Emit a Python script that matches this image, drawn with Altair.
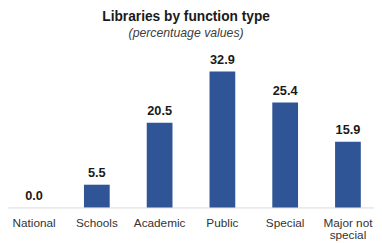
import altair as alt
import pandas as pd

categories = ["National", "Schools", "Academic", "Public", "Special", "Major not special"]
values = [0.0, 5.5, 20.5, 32.9, 25.4, 15.9]

df = pd.DataFrame({"type": categories, "pct": values})

FONT = "Liberation Sans"

x = alt.X(
    "type:N",
    sort=categories,
    scale=alt.Scale(paddingInner=0.59, paddingOuter=0.21),
    axis=alt.Axis(
        title=None,
        ticks=False,
        domainColor="#d9d9d9",
        domainWidth=1,
        labelAngle=0,
        labelFont=FONT,
        labelFontSize=12,
        labelColor="#333333",
        labelPadding=10,
        labelLineHeight=13,
        labelExpr="datum.value == 'Major not special' ? ['Major not', 'special'] : datum.value",
    ),
)
y = alt.Y("pct:Q", scale=alt.Scale(domain=[0, 38], nice=False), axis=None)

bars = alt.Chart(df).mark_bar(color="#2F5597").encode(x=x, y=y)
labels = alt.Chart(df).mark_text(
    baseline="bottom", dy=-5, font=FONT, fontSize=13, fontWeight="bold", color="#1a1a1a"
).encode(x=x, y=y, text=alt.Text("pct:Q", format=".1f"))

chart = (
    alt.layer(bars, labels)
    .properties(
        width=373,
        height=160,
        autosize=alt.AutoSizeParams(type="none"),
        padding={"left": 0, "top": 41, "right": 0, "bottom": 34},
        title=alt.TitleParams(
            text="Libraries by function type",
            subtitle="(percentuage values)",
            font=FONT,
            fontSize=14,
            fontWeight="bold",
            color="#1a1a1a",
            subtitleFont=FONT,
            subtitleFontSize=12.5,
            subtitleFontStyle="italic",
            subtitleColor="#404040",
            subtitlePadding=3,
            anchor="middle",
            dx=-5,
            offset=11,
        ),
    )
    .configure_view(stroke=None)
)

chart.save("out.html", embed_options={"renderer": "svg", "actions": False})
